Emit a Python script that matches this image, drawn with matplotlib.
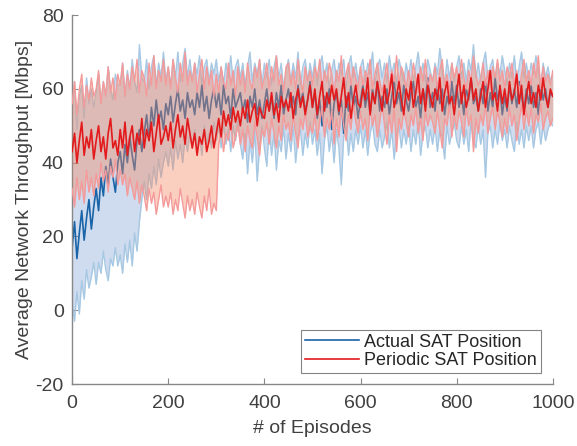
import numpy as np
import matplotlib.pyplot as plt

plt.rcParams['font.family'] = ['Liberation Sans', 'DejaVu Sans']
plt.rcParams['axes.unicode_minus'] = False

# episodes, one reading every 5 episodes
episodes = np.arange(0, 1001, 5)

# Actual SAT position: mean, upper and lower bound [Mbps]
actual_mean = [
    17, 24, 14, 21, 27, 19, 25, 30, 22, 28,
    33, 27, 36, 31, 39, 34, 41, 36, 32, 40,
    43, 37, 45, 40, 47, 42, 38, 46, 49, 43,
    48, 53, 46, 55, 50, 57, 51, 54, 49, 56,
    53, 58, 51, 56, 60, 54, 57, 52, 59, 55,
    57, 53, 59, 55, 61, 54, 58, 52, 57, 60,
    55, 59, 53, 61, 56, 58, 52, 60, 55, 57,
    59, 54, 57, 51, 58, 55, 60, 53, 57, 52,
    56, 60, 54, 58, 52, 59, 55, 61, 53, 57,
    60, 55, 58, 53, 61, 56, 59, 54, 57, 62,
    55, 59, 52, 57, 50, 58, 55, 60, 49, 56,
    59, 53, 57, 48, 58, 54, 61, 55, 58, 52,
    57, 61, 55, 59, 53, 60, 56, 62, 54, 58,
    55, 60, 53, 58, 62, 56, 59, 54, 61, 57,
    54, 59, 62, 55, 58, 52, 60, 57, 63, 55,
    59, 54, 61, 56, 60, 53, 58, 55, 62, 56,
    61, 55, 59, 53, 60, 57, 63, 56, 58, 54,
    60, 56, 62, 54, 59, 55, 63, 57, 60, 53,
    58, 54, 61, 56, 60, 55, 62, 58, 54, 60,
    56, 61, 55, 59, 53, 62, 57, 60, 55, 59,
    58]
actual_upper = [
    54, 62, 49, 58, 61, 52, 63, 56, 60, 55,
    59, 64, 56, 62, 58, 66, 60, 57, 64, 61,
    61, 67, 58, 65, 60, 68, 62, 59, 72, 63,
    62, 68, 60, 66, 69, 61, 67, 63, 70, 62,
    66, 61, 68, 63, 70, 62, 67, 71, 63, 68,
    62, 67, 64, 69, 61, 66, 68, 62, 67, 64,
    68, 62, 66, 61, 67, 63, 69, 62, 66, 68,
    63, 67, 61, 66, 70, 62, 67, 64, 68, 61,
    67, 63, 68, 61, 66, 69, 63, 67, 60, 65,
    68, 62, 67, 63, 70, 61, 66, 68, 62, 67,
    63, 68, 61, 66, 69, 63, 67, 60, 65, 68,
    62, 67, 64, 68, 60, 66, 69, 63, 67, 62,
    66, 68, 62, 67, 64, 70, 61, 66, 68, 63,
    67, 62, 69, 64, 67, 61, 68, 65, 62, 67,
    63, 68, 62, 66, 70, 63, 67, 62, 68, 65,
    62, 67, 64, 71, 65, 61, 68, 63, 67, 62,
    66, 69, 63, 67, 62, 68, 65, 72, 63, 67,
    62, 67, 70, 63, 66, 68, 62, 67, 64, 69,
    65, 61, 67, 63, 69, 62, 66, 70, 63, 67,
    62, 67, 64, 69, 65, 61, 67, 63, 66, 62,
    64]
actual_lower = [
    2, -3, 5, -1, 8, 3, 11, 6, 9, 13,
    7, 13, 10, 16, 11, 8, 14, 12, 17, 12,
    15, 10, 18, 13, 19, 12, 21, 16, 24, 30,
    35, 30, 37, 33, 39, 34, 41, 36, 40, 43,
    39, 44, 38, 46, 41, 45, 40, 47, 43, 48,
    44, 49, 43, 47, 42, 50, 45, 48, 44, 51,
    46, 50, 44, 51, 45, 49, 43, 50, 46, 52,
    45, 41, 48, 37, 46, 40, 49, 35, 44, 50,
    44, 39, 49, 42, 48, 38, 46, 43, 50, 41,
    48, 43, 50, 40, 47, 49, 42, 48, 44, 51,
    45, 49, 42, 48, 37, 46, 50, 43, 48, 40,
    49, 44, 34, 47, 50, 42, 48, 43, 49, 45,
    50, 44, 49, 42, 48, 51, 45, 43, 49, 44,
    47, 51, 44, 49, 41, 48, 50, 44, 49, 45,
    50, 43, 49, 45, 51, 42, 48, 50, 44, 49,
    45, 50, 43, 49, 47, 41, 50, 45, 48, 51,
    46, 44, 50, 45, 49, 43, 51, 46, 44, 50,
    45, 49, 36, 48, 50, 44, 49, 45, 51, 46,
    49, 44, 50, 46, 43, 51, 45, 49, 44, 50,
    46, 50, 44, 49, 51, 45, 50, 46, 49, 51,
    50]

# Periodic SAT position: mean, upper and lower bound [Mbps]
periodic_mean = [
    43, 48, 40, 46, 51, 42, 47, 44, 49, 41,
    46, 50, 43, 47, 41, 48, 52, 44, 46, 42,
    49, 44, 51, 42, 47, 50, 43, 48, 45, 52,
    44, 49, 46, 51, 43, 48, 53, 45, 47, 50,
    46, 51, 44, 49, 53, 47, 50, 45, 52, 48,
    44, 48, 42, 47, 45, 49, 43, 46, 50, 44,
    48, 52, 47, 54, 50, 53, 49, 55, 51, 54,
    50, 55, 52, 57, 51, 54, 56, 50, 55, 53,
    52, 57, 54, 59, 53, 56, 51, 58, 55, 57,
    54, 59, 52, 57, 60, 55, 58, 53, 57, 61,
    55, 60, 53, 58, 62, 54, 59, 56, 61, 57,
    60, 54, 58, 63, 55, 59, 52, 57, 61, 56,
    55, 60, 57, 63, 53, 59, 56, 62, 58, 54,
    61, 56, 59, 64, 55, 58, 62, 57, 53, 60,
    57, 62, 55, 59, 64, 56, 60, 54, 61, 58,
    55, 60, 57, 63, 54, 59, 62, 56, 58, 53,
    59, 64, 56, 61, 55, 58, 63, 57, 60, 54,
    58, 62, 55, 60, 65, 57, 59, 54, 61, 56,
    60, 55, 62, 57, 59, 64, 56, 61, 53, 58,
    62, 56, 59, 55, 61, 57, 63, 58, 55, 60,
    58]
periodic_upper = [
    56, 62, 53, 60, 64, 55, 61, 57, 63, 58,
    60, 65, 56, 62, 58, 66, 59, 63, 57, 64,
    61, 67, 58, 64, 60, 66, 62, 68, 59, 65,
    63, 58, 67, 61, 69, 60, 65, 62, 68, 61,
    66, 60, 68, 63, 59, 67, 62, 70, 61, 65,
    62, 67, 59, 64, 68, 60, 66, 61, 65, 58,
    64, 59, 66, 62, 60, 67, 61, 65, 58, 66,
    61, 65, 59, 67, 62, 60, 66, 63, 68, 60,
    63, 67, 60, 66, 62, 69, 61, 64, 59, 66,
    67, 61, 65, 60, 68, 63, 59, 66, 62, 65,
    61, 66, 63, 68, 60, 65, 62, 67, 64, 59,
    65, 62, 69, 60, 64, 67, 61, 66, 63, 60,
    66, 61, 65, 63, 68, 60, 64, 67, 62, 59,
    63, 67, 60, 65, 62, 69, 61, 66, 64, 60,
    65, 61, 67, 63, 59, 66, 62, 68, 60, 64,
    62, 66, 60, 65, 68, 61, 64, 59, 67, 63,
    66, 61, 68, 63, 60, 65, 62, 69, 64, 61,
    63, 67, 61, 65, 60, 66, 63, 68, 62, 65,
    60, 66, 63, 67, 61, 65, 59, 64, 68, 62,
    65, 61, 67, 63, 69, 60, 66, 62, 64, 61,
    65]
periodic_lower = [
    33, 28, 36, 30, 35, 29, 38, 32, 36, 31,
    37, 33, 40, 35, 38, 32, 39, 36, 41, 34,
    38, 34, 37, 31, 36, 33, 30, 35, 29, 34,
    31, 27, 33, 29, 32, 26, 30, 34, 28, 31,
    28, 32, 26, 30, 27, 33, 29, 25, 31, 27,
    30, 26, 32, 28, 25, 31, 27, 33, 26, 29,
    27, 45, 49, 43, 48, 46, 51, 44, 47, 50,
    45, 49, 43, 50, 46, 44, 51, 47, 42, 49,
    47, 51, 45, 52, 48, 44, 50, 46, 53, 49,
    51, 46, 53, 48, 44, 52, 49, 54, 47, 50,
    48, 53, 46, 51, 55, 47, 52, 49, 54, 45,
    52, 47, 55, 50, 46, 53, 49, 56, 51, 48,
    54, 49, 52, 46, 55, 50, 53, 47, 51, 56,
    50, 45, 53, 48, 55, 43, 52, 49, 54, 51,
    47, 53, 50, 55, 48, 52, 46, 54, 50, 53,
    51, 48, 54, 49, 44, 52, 50, 56, 47, 53,
    49, 54, 51, 47, 55, 50, 53, 43, 52, 48,
    53, 50, 56, 48, 52, 55, 49, 54, 51, 47,
    52, 48, 55, 50, 53, 46, 51, 56, 49, 54,
    50, 55, 48, 53, 51, 56, 49, 52, 54, 50,
    52]

fig = plt.figure(figsize=(5.77, 4.46), dpi=100)
ax = fig.add_axes([0.125, 0.139, 0.833, 0.827])

# actual position: band, bounds, mean
ax.fill_between(episodes, actual_lower, actual_upper, color='#cfdbee', lw=0, zorder=1)
ax.plot(episodes, actual_upper, color='#a6c8e3', lw=1.0, zorder=2)
ax.plot(episodes, actual_lower, color='#a6c8e3', lw=1.0, zorder=2)
ax.plot(episodes, actual_mean, color='#1a64a8', lw=1.2, zorder=2, label='Actual SAT Position')

# periodic position drawn over it
ax.fill_between(episodes, periodic_lower, periodic_upper, color='#f58962', alpha=0.4, lw=0, zorder=3)
ax.plot(episodes, periodic_upper, color='#f49a9a', lw=1.0, zorder=4)
ax.plot(episodes, periodic_lower, color='#f49a9a', lw=1.0, zorder=4)
ax.plot(episodes, periodic_mean, color='#e31a1c', lw=1.2, zorder=4, label='Periodic SAT Position')

ax.set_xlim(0, 1000)
ax.set_ylim(-20, 80)
ax.set_xticks(np.arange(0, 1001, 200))
ax.set_yticks(np.arange(-20, 81, 20))

for s in ['top', 'right']:
    ax.spines[s].set_visible(False)
for s in ['left', 'bottom']:
    ax.spines[s].set_color('#888888')
    ax.spines[s].set_linewidth(1.0)
ax.tick_params(direction='in', length=4, color='#888888', labelsize=14,
               labelcolor='#404040')
ax.tick_params(axis='x', pad=8)
ax.tick_params(axis='y', pad=6)

ax.set_xlabel('# of Episodes', fontsize=14, color='#404040', labelpad=6)
ax.set_ylabel('Average Network Throughput [Mbps]', fontsize=14, color='#404040', labelpad=2)

leg = ax.legend(loc='lower right', bbox_to_anchor=(0.975, 0.03), fontsize=13,
                frameon=True, fancybox=False, handlelength=3.0, handletextpad=0.3,
                borderpad=0.2, labelspacing=0.1, borderaxespad=0)
leg.set_zorder(10)
leg.get_frame().set_edgecolor('#666666')
leg.get_frame().set_linewidth(0.8)
for t in leg.get_texts():
    t.set_color('#262626')

fig.savefig('out.png', dpi=100)
